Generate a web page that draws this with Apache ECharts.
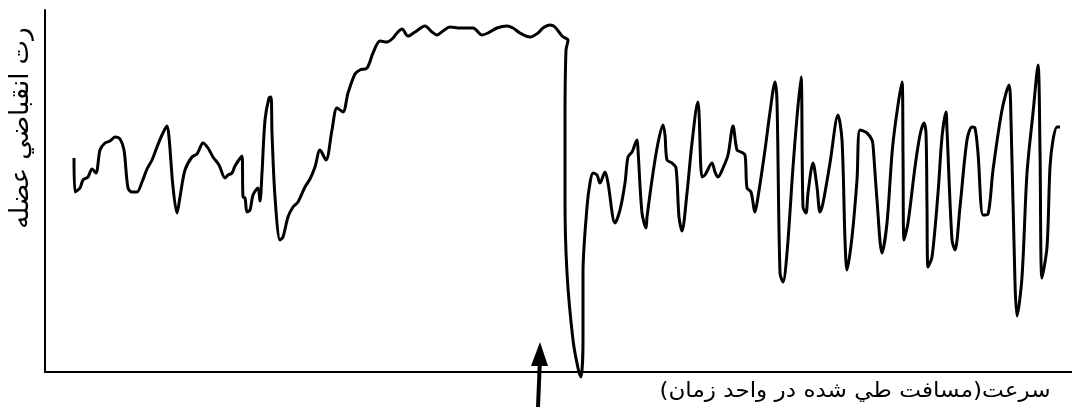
<!DOCTYPE html>
<html>
<head>
<meta charset="utf-8">
<script src="https://cdn.jsdelivr.net/npm/echarts@6/dist/echarts.min.js"></script>
<style>
html,body{margin:0;padding:0;background:#fff;}
#chart{width:1072px;height:419px;}
</style>
</head>
<body>
<div id="chart"></div>
<script>
// Muscle contraction trace: time (x) and tension (y), arbitrary units
const time = [29,30,35,38,43,47,51,55,60,65,70,75,79,83,87,92,97,102,107,112,117,122,124,128,132,135,140,147,152,154,158,163,168,174,180,183,187,190,197,198,200,202,205,208,213,215,217,220,224,226,227,230,235,238,243,248,253,260,265,270,275,281,287,292,298,303,310,315,322,328,335,342,347,352,357,363,370,380,387,392,398,405,415,428,437,443,452,462,468,475,485,493,498,505,510,517,522,523,521,520,520,522,528,533,536,538,538,542,545,548,552,555,560,563,570,575,580,583,587,592,593,597,601,602,608,613,618,620,622,627,631,634,637,642,647,653,654,657,660,667,670,673,678,683,688,692,696,700,702,706,710,713,720,725,730,732,735,738,742,748,752,756,758,761,763,768,772,775,778,785,793,797,800,802,807,812,815,822,827,828,832,837,842,848,857,858,859,863,870,875,879,881,882,883,887,893,897,901,902,907,910,915,922,927,930,933,938,943,948,957,964,966,970,972,977,982,988,993,995,997,1002,1005,1008,1012,1015];
const tension = [214,180,184,192,195,203,199,222,229,231,235,233,222,184,180,180,190,203,212,225,237,246,235,185,159,175,202,215,218,222,229,224,215,207,194,197,199,206,216,175,174,160,162,177,184,171,199,252,274,275,239,175,132,135,155,165,170,185,193,205,222,212,242,264,260,279,298,302,304,319,331,330,333,339,343,336,340,346,340,337,341,345,344,344,337,339,344,346,344,339,335,339,344,347,345,336,333,332,322,252,172,99,32,4,-5,32,99,165,189,199,197,189,200,189,149,162,189,215,220,232,222,159,144,155,199,229,247,237,212,209,204,155,141,179,229,270,260,195,197,209,200,195,204,217,246,222,220,217,184,180,160,175,222,260,290,270,99,90,119,205,255,295,165,159,179,209,185,160,169,209,257,232,132,102,135,192,242,239,232,227,172,119,149,229,290,219,132,149,205,237,249,239,165,105,115,179,235,260,242,132,122,165,232,245,244,219,157,158,202,262,287,252,89,56,95,199,259,307,222,94,125,205,232,245,245];
const stimulusTime = 494; // arrow marks the stimulus

const chart = echarts.init(document.getElementById('chart'), null, {renderer: 'canvas'});
const option = {
  animation: false,
  backgroundColor: '#ffffff',
  grid: {left: 45, right: 0, top: 10, bottom: 47, containLabel: false},
  xAxis: {
    type: 'value', min: 0, max: 1027,
    axisLine: {show: true, onZero: false, lineStyle: {color: '#000', width: 2}},
    axisTick: {show: false}, axisLabel: {show: false}, splitLine: {show: false}
  },
  yAxis: {
    type: 'value', min: 0, max: 362,
    axisLine: {show: true, onZero: false, lineStyle: {color: '#000', width: 2}},
    axisTick: {show: false}, axisLabel: {show: false}, splitLine: {show: false}
  },
  series: [{
    type: 'line',
    data: time.map((t, i) => [t, tension[i]]),
    showSymbol: false,
    smooth: 0.3,
    clip: false,
    lineStyle: {color: '#000', width: 3}
  }]
};
chart.setOption(option);

const tip = chart.convertToPixel({gridIndex: 0}, [stimulusTime, 0]);
const ax = tip[0] + 1, ay = tip[1];
chart.setOption({
  graphic: [
    {type: 'polygon', shape: {points: [[ax, ay - 30], [ax - 9, ay - 6], [ax + 8, ay - 6]]}, style: {fill: '#000'}},
    {type: 'line', shape: {x1: ax, y1: ay - 14, x2: ax - 2, y2: ay + 35}, style: {stroke: '#000', lineWidth: 4}},
    {type: 'text', x: 21, y: 128, rotation: Math.PI / 2,
      style: {text: 'رت انقباضي عضله', fontFamily: 'DejaVu Sans, sans-serif', fontSize: 26, fill: '#000', align: 'center', verticalAlign: 'middle'}},
    {type: 'text', x: 855, y: 392, scaleX: 1.1,
      style: {text: 'سرعت(مسافت طي شده در واحد زمان)', fontFamily: 'DejaVu Sans, sans-serif', fontSize: 21, fill: '#000', align: 'center', verticalAlign: 'middle'}}
  ]
});
</script>
</body>
</html>
